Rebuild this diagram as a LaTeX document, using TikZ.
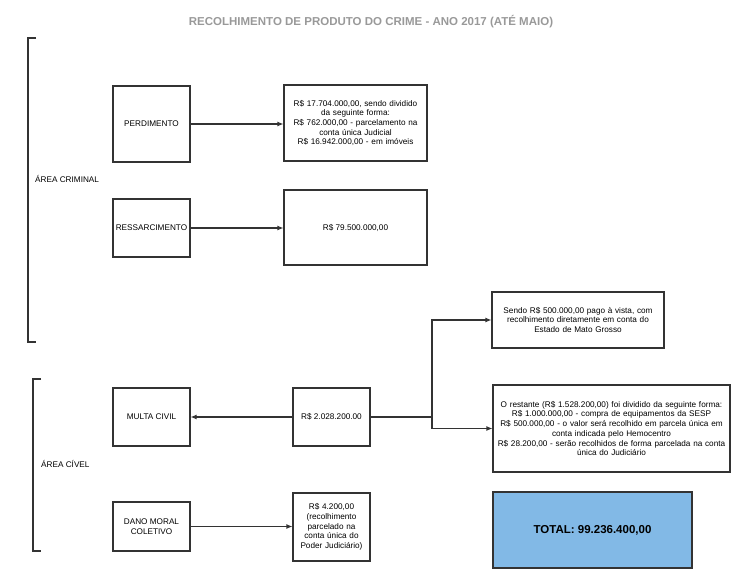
\documentclass[tikz,border=0pt]{standalone}
\usepackage{fontspec}
\setmainfont{Liberation Sans}
\usepackage{xcolor}
\usetikzlibrary{positioning,arrows.meta}
\definecolor{linegray}{HTML}{333333}
\definecolor{titlegray}{HTML}{999999}
\definecolor{totalblue}{HTML}{82B9E6}
\begin{document}
\begin{tikzpicture}
		[x=1pt,y=-1pt,
		every node/.style={font=\fontsize{8.2}{9.7}\selectfont,text=black},
		box/.style={draw=linegray,line width=1.1pt,inner sep=0pt,minimum width=77pt,align=center},
		valbox/.style={box,text width=#1},
		link/.style={draw=linegray,line width=1.1pt},
		arr/.style={link,-{Latex[length=6pt,width=5pt]}}]
		\useasboundingbox (0,0) rectangle (750,572);
		% titulo
		\node[font=\fontsize{11.5}{13}\selectfont\bfseries,text=titlegray] (title) at (371,22) {RECOLHIMENTO DE PRODUTO DO CRIME - ANO 2017 (ATÉ MAIO)};
		% chaves
		\draw[link] (36,38) -- (28,38) -- (28,342) -- (36,342);
		\draw[link] (41,379) -- (33,379) -- (33,551) -- (41,551);
		\node[anchor=west,inner sep=0pt] (crim) at (35,179) {ÁREA CRIMINAL};
		\node[anchor=west,inner sep=0pt] (civ) at (41,464) {ÁREA CÍVEL};
		% area criminal
		\node[box,minimum height=76pt] (perd) at (151.5,124) {PERDIMENTO};
		\node[box,minimum height=58pt] (ress) at (151.5,228) {RESSARCIMENTO};
		\node[valbox=138pt,minimum width=143pt,minimum height=76pt] (perdval) at (355.5,123)
			{R\$ 17.704.000,00, sendo dividido\\da seguinte forma:\\R\$ 762.000,00 - parcelamento na\\conta única Judicial\\R\$ 16.942.000,00 - em imóveis};
		\node[box,minimum width=143pt,minimum height=75pt] (ressval) at (355.5,227.5) {R\$ 79.500.000,00};
		% area civel
		\node[box,minimum height=58pt] (multa) at (151.5,417) {MULTA CIVIL};
		\node[box,minimum height=49pt] (dano) at (151.5,526.5) {DANO MORAL\\COLETIVO};
		\node[box,minimum height=58pt] (civval) at (331.5,417) {R\$ 2.028.200.00};
		\node[valbox=72pt,minimum height=68pt] (danoval) at (331.5,527)
			{R\$ 4.200,00\\(recolhimento\\parcelado na\\conta única do\\Poder Judiciário)};
		\node[valbox=168pt,minimum width=172pt,minimum height=56pt] (sendo) at (578,320)
			{Sendo R\$ 500.000,00 pago à vista, com\\recolhimento diretamente em conta do\\Estado de Mato Grosso};
		\node[valbox=235pt,minimum width=237pt,minimum height=87pt] (rest) at (611.5,428.5)
			{O restante (R\$ 1.528.200,00) foi dividido da seguinte forma:\\R\$ 1.000.000,00 - compra de equipamentos da SESP\\R\$ 500.000,00 - o valor será recolhido em parcela única em\\conta indicada pelo Hemocentro\\R\$ 28.200,00 - serão recolhidos de forma parcelada na conta\\única do Judiciário};
		\node[box,fill=totalblue,minimum width=199pt,minimum height=76pt,font=\fontsize{11.5}{13}\selectfont\bfseries] (total) at (592.5,530) {TOTAL: 99.236.400,00};
		% ligacoes
		\coordinate (split) at (432,417);
		\draw[arr] (perd.east) -- (perdval.west |- perd.east);
		\draw[arr] (ress.east) -- (ressval.west |- ress.east);
		\draw[arr] (civval.west) -- (multa.east);
		\draw[link] (civval.east) -- (split);
		\draw[arr] (split) |- (sendo.west);
		\draw[arr] (split) |- (rest.west);
		\draw[arr] (dano.east) -- (danoval.west |- dano.east);
\end{tikzpicture}
\end{document}
